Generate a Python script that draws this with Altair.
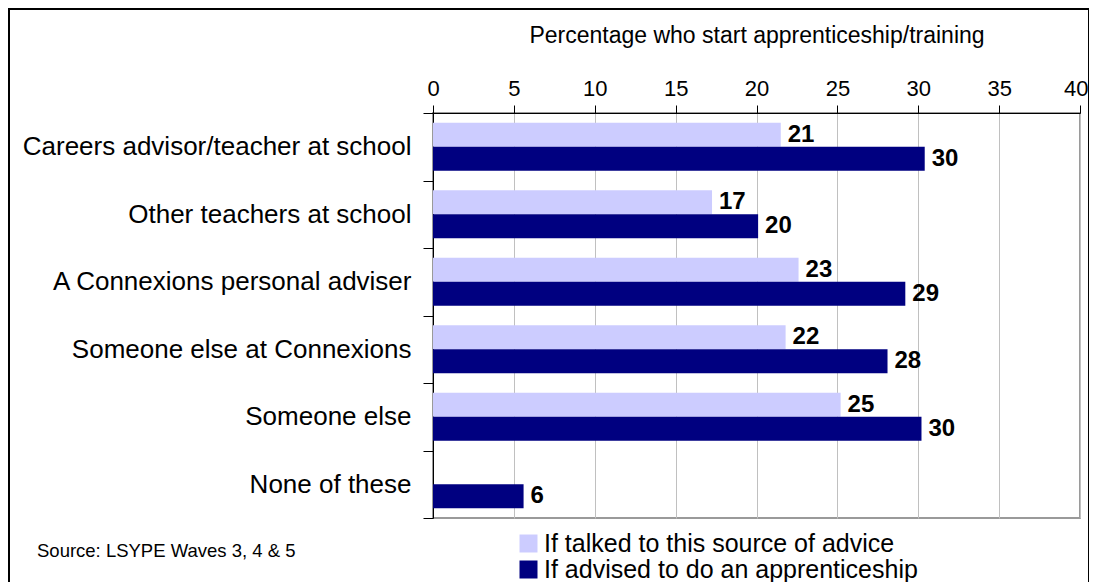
import altair as alt
import pandas as pd

categories = [
    "Careers advisor/teacher at school",
    "Other teachers at school",
    "A Connexions personal adviser",
    "Someone else at Connexions",
    "Someone else",
    "None of these",
]
series = ["If talked to this source of advice", "If advised to do an apprenticeship"]
talked = [21.5, 17.25, 22.6, 21.8, 25.2, None]
advised = [30.4, 20.1, 29.2, 28.1, 30.2, 5.6]
talked_labels = ["21", "17", "23", "22", "25", ""]
advised_labels = ["30", "20", "29", "28", "30", "6"]
x_ticks = [0, 5, 10, 15, 20, 25, 30, 35, 40]
source_text = "Source: LSYPE Waves 3, 4 & 5"
x_title = "Percentage who start apprenticeship/training"
colors = ["#CCCCFF", "#000080"]

rows = []
for c, t, a, tl, al in zip(categories, talked, advised, talked_labels, advised_labels):
    if t is not None:
        rows.append({"category": c, "series": series[0], "value": t, "label": tl})
    if a is not None:
        rows.append({"category": c, "series": series[1], "value": a, "label": al})
df = pd.DataFrame(rows)

FONT = "Liberation Sans"

y_enc = alt.Y(
    "category:N",
    sort=categories,
    scale=alt.Scale(domain=categories, paddingInner=0, paddingOuter=0),
    axis=alt.Axis(
        title=None,
        tickBand="extent",
        tickSize=10,
        tickColor="#000000",
        domainColor="#000000",
        labelColor="#000000",
        labelFont=FONT,
        labelFontSize=26,
        labelPadding=12,
        labelLimit=500,
        grid=False,
    ),
)
yoff_enc = alt.YOffset(
    "series:N",
    sort=series,
    scale=alt.Scale(domain=series, paddingInner=0, paddingOuter=0.406),
)
x_enc = alt.X(
    "value:Q",
    scale=alt.Scale(domain=[0, 40], nice=False, zero=True),
    axis=alt.Axis(
        orient="top",
        values=x_ticks,
        title=x_title,
        titleFont=FONT,
        titleFontSize=23,
        titleFontWeight="normal",
        titleColor="#000000",
        titlePadding=30,
        labelFont=FONT,
        labelFontSize=22,
        labelColor="#000000",
        labelPadding=5,
        labelAlign={"condition": {"test": "datum.value == 40", "value": "right"}, "value": "center"},
        labelOffset={"condition": {"test": "datum.value == 40", "value": 8}, "value": 0},
        tickSize=8,
        tickColor="#000000",
        domainColor="#000000",
        grid=True,
        gridColor="#C0C0C0",
        gridWidth=1,
        labelFlush=False,
    ),
)

bars = alt.Chart(df).mark_bar().encode(
    y=y_enc,
    yOffset=yoff_enc,
    x=x_enc,
    color=alt.Color(
        "series:N",
        sort=series,
        scale=alt.Scale(domain=series, range=colors),
        legend=alt.Legend(
            title=None,
            orient="none",
            legendX=83,
            legendY=418,
            padding=0,
            symbolType="square",
            symbolSize=324,
            symbolStrokeWidth=0,
            symbolOpacity=1,
            labelFont=FONT,
            labelFontSize=25,
            labelColor="#000000",
            labelOffset=3,
            rowPadding=0,
            labelLimit=600,
        ),
    ),
)

labels = alt.Chart(df).mark_text(
    align="left", baseline="middle", dx=7, font=FONT, fontSize=24,
    fontWeight="bold", color="#000000",
).encode(
    y=alt.Y("category:N", sort=categories),
    yOffset=alt.YOffset("series:N", sort=series),
    x=alt.X("value:Q"),
    text="label:N",
)

source = alt.Chart(pd.DataFrame({"t": [source_text]})).mark_text(
    align="left", baseline="middle", font=FONT, fontSize=18.5, color="#000000"
).encode(x=alt.value(-396), y=alt.value(438), text="t:N")

border = alt.Chart(pd.DataFrame({"a": [0]})).mark_rect(
    fill="transparent", stroke="#000000", strokeWidth=2
).encode(x=alt.value(-424), x2=alt.value(656), y=alt.value(-104), y2=alt.value(490))

chart = alt.layer(bars, labels, source, border).properties(
    width=647,
    height=405,
    autosize=alt.AutoSizeParams(type="none"),
    padding={"left": 425, "top": 105, "right": 9, "bottom": 64},
    background="#FFFFFF",
).configure_view(stroke="#9A9A9A", strokeWidth=2)

chart.save("out.html", embed_options={"renderer": "svg", "actions": False})
